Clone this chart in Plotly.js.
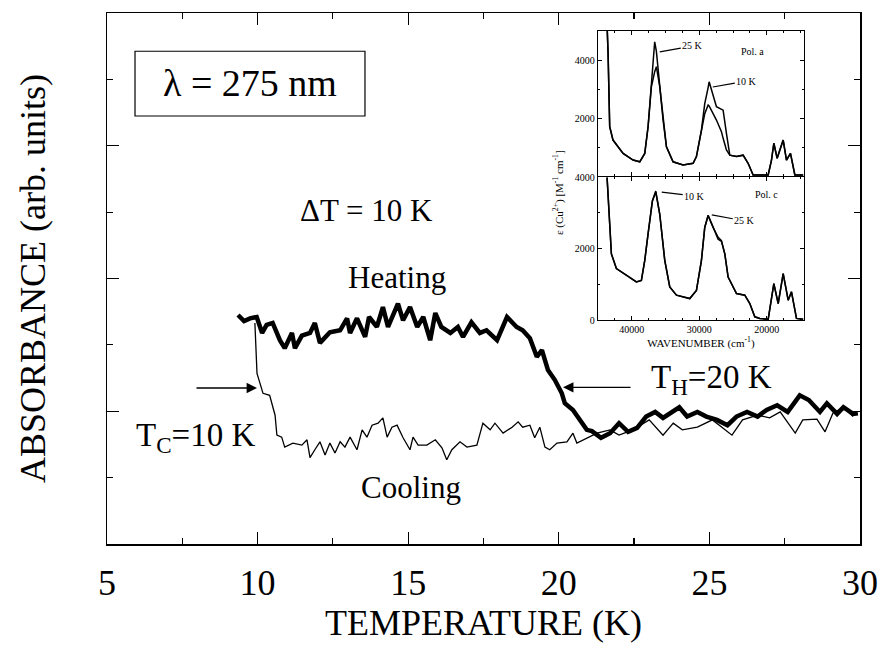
<!DOCTYPE html>
<html>
<head>
<meta charset="utf-8">
<script src="https://cdn.plot.ly/plotly-3.0.1.min.js"></script>
<style>html,body{margin:0;padding:0;background:#fff;} #chart{width:878px;height:647px;}</style>
</head>
<body>
<div id="chart"></div>
<script>
// ---- Main chart data (temperature in K, absorbance arb. units) ----
const heatT = [9.35,9.55,9.75,9.97,10.15,10.3,10.5,10.74,10.9,11.14,11.24,11.47,11.74,11.9,12.07,12.4,12.74,12.97,13.07,13.3,13.57,13.7,13.96,14.16,14.33,14.5,14.66,14.83,15.06,15.3,15.5,15.73,15.9,16.1,16.4,16.65,16.82,17.1,17.38,17.6,17.95,18.28,18.6,18.8,19.04,19.27,19.44,19.64,19.87,20.1,20.2,20.47,20.7,20.93,21.1,21.4,21.7,22.0,22.3,22.6,22.9,23.2,23.46,23.8,24.0,24.26,24.6,24.9,25.25,25.6,25.9,26.25,26.6,26.9,27.25,27.6,28.0,28.3,28.67,28.9,29.24,29.45,29.77,29.93];
const heatA = [3.45,3.36,3.40,3.42,3.18,3.30,3.33,3.07,2.95,3.18,2.95,3.14,3.18,3.33,3.03,3.19,3.22,3.40,3.18,3.40,3.12,3.42,3.27,3.57,3.27,3.45,3.62,3.37,3.57,3.27,3.42,3.07,3.48,3.27,3.18,3.27,3.12,3.34,3.18,3.22,3.07,3.42,3.27,3.22,3.10,2.82,2.92,2.62,2.47,2.27,2.12,2.02,1.87,1.72,1.70,1.60,1.67,1.82,1.69,1.75,1.92,1.99,1.90,1.99,2.06,1.92,1.99,1.92,1.87,1.79,1.92,1.99,1.92,2.02,2.09,1.99,2.24,2.17,1.99,2.12,1.96,2.06,1.96,1.97];
const coolT = [9.91,9.98,10.18,10.4,10.58,10.64,10.8,10.9,11.17,11.47,11.64,11.74,11.9,12.07,12.24,12.4,12.57,12.74,12.9,13.07,13.3,13.47,13.63,13.8,14.0,14.16,14.3,14.46,14.63,14.83,15.06,15.16,15.33,15.62,15.9,16.12,16.28,16.45,16.72,16.95,17.28,17.48,17.72,17.88,18.15,18.45,18.65,18.8,19.04,19.2,19.37,19.54,19.7,19.94,20.27,20.47,20.6,20.93,21.27,21.7,22.0,22.46,23.0,23.46,23.8,24.1,24.6,25.1,25.45,25.75,26.1,26.6,27.0,27.35,27.85,28.1,28.57,28.84,29.1,29.45,29.77];
const coolA = [3.33,2.57,2.27,2.24,1.94,1.64,1.61,1.46,1.52,1.49,1.57,1.30,1.42,1.54,1.34,1.52,1.37,1.54,1.46,1.61,1.42,1.72,1.61,1.79,1.82,1.90,1.61,1.76,1.79,1.60,1.42,1.61,1.49,1.49,1.57,1.45,1.27,1.42,1.54,1.46,1.49,1.82,1.72,1.82,1.67,1.76,1.84,1.76,1.79,1.60,1.76,1.46,1.42,1.52,1.54,1.67,1.52,1.60,1.67,1.72,1.64,1.72,1.87,1.64,1.82,1.72,1.76,1.87,1.74,1.64,1.87,1.94,1.90,1.99,1.67,1.87,1.88,1.69,1.97,2.06,1.92];

// ---- Inset data (wavenumber cm^-1, epsilon M^-1 cm^-1) ----
const insetWa = [43650,43500,43260,42770,41280,39800,38810,38070,37580,37090,36600,36350,35850,35360,34860,33880,32400,30910,30420,29680,29190,28690,28540,27460,26720,26470,25980,25480,24490,23510,22770,22030,21040,19800,19310,18960,18470,17580,17090,16500,15850,14620];
const pola25 = [5200,4230,1700,1240,780,550,490,780,1700,3080,4630,4300,3080,1930,1010,490,380,440,670,1590,2150,2450,2420,1930,1530,1300,900,720,670,720,440,35,35,35,550,1130,610,1240,550,780,35,35];
const pola10 = [5200,4230,1700,1240,780,550,490,780,1700,3080,3600,3770,3080,1930,1010,490,380,440,670,1590,2500,3050,3250,2390,2300,2270,1470,720,670,720,440,35,35,35,550,1130,610,1240,550,780,35,35];
const insetWc = [43650,43360,43010,42270,40790,39310,38570,38070,37580,36940,36440,35850,35110,34370,33380,31410,30420,29680,29190,28690,27950,27210,26720,26220,25730,24490,23260,22520,21780,21040,19800,18960,18320,17580,16840,16350,15610,14620];
const polc10 = [3990,3150,1850,1440,1250,1065,1110,1670,2410,3330,3610,2960,1670,925,695,600,830,1670,2590,2920,2590,2315,2220,1850,1200,740,695,460,90,45,20,1020,460,1300,555,790,45,20];
const polc25 = [3990,3150,1850,1440,1250,1065,1110,1670,2410,3330,3580,2960,1670,925,695,600,830,1670,2590,2930,2600,2260,2200,1850,1200,740,695,460,90,45,20,1020,460,1300,555,790,45,20];

const xTickVals = [5,10,15,20,25,30];
const insetXTicks = [40000,30000,20000];

const serif = 'Liberation Serif, Times New Roman, serif';
const black = '#000';

const traces = [
  {x: heatT, y: heatA, type:'scatter', mode:'lines', line:{color:black, width:4.5}, xaxis:'x', yaxis:'y', hoverinfo:'skip'},
  {x: coolT, y: coolA, type:'scatter', mode:'lines', line:{color:black, width:1.3}, xaxis:'x', yaxis:'y', hoverinfo:'skip'},
  {x: insetWa, y: pola25, type:'scatter', mode:'lines', line:{color:black, width:1.5}, xaxis:'x2', yaxis:'y2', hoverinfo:'skip'},
  {x: insetWa, y: pola10, type:'scatter', mode:'lines', line:{color:black, width:1.5}, xaxis:'x2', yaxis:'y2', hoverinfo:'skip'},
  {x: insetWc, y: polc10, type:'scatter', mode:'lines', line:{color:black, width:1.5}, xaxis:'x3', yaxis:'y3', hoverinfo:'skip'},
  {x: insetWc, y: polc25, type:'scatter', mode:'lines', line:{color:black, width:1.5}, xaxis:'x3', yaxis:'y3', hoverinfo:'skip'}
];

const insetX = [0.652, 0.9256];
const insetAxisCommon = {
  showline:true, linecolor:black, linewidth:1.2, mirror:'ticks', ticks:'inside', ticklen:4, tickcolor:black,
  showgrid:false, zeroline:false, tickfont:{family:serif, size:10, color:black}
};

const layout = {
  width:878, height:647,
  margin:{l:107, r:18, t:13, b:103},
  paper_bgcolor:'#fff', plot_bgcolor:'#fff',
  showlegend:false,
  font:{family:serif, color:black},
  xaxis:{
    domain:[0,1], range:[5,30], tickvals:xTickVals, ticktext:xTickVals.map(String),
    ticks:'inside', ticklen:12, tickwidth:1.2, tickcolor:black,
    minor:{dtick:2.5, tick0:0, ticks:'inside', ticklen:6, tickcolor:black, tickwidth:1.2, showgrid:false},
    showline:true, linecolor:black, linewidth:1.5, mirror:'ticks',
    showgrid:false, zeroline:false,
    tickfont:{family:serif, size:36, color:black}, ticklabelstandoff:6, ticklabeloverflow:'allow',
    title:{text:'TEMPERATURE (K)', font:{family:serif, size:36, color:black}, standoff:4},
    automargin:false
  },
  yaxis:{
    domain:[0,1], range:[0,8], tickmode:'linear', tick0:0, dtick:2,
    ticks:'inside', ticklen:12, tickwidth:1.2, tickcolor:black,
    minor:{dtick:1, tick0:0, ticks:'inside', ticklen:6, tickcolor:black, tickwidth:1.2, showgrid:false},
    showticklabels:false,
    showline:true, linecolor:black, linewidth:1.5, mirror:'ticks',
    showgrid:false, zeroline:false,
    title:{text:'ABSORBANCE (arb. units)', font:{family:serif, size:36, color:black}, standoff:49},
    automargin:false
  },
  xaxis2:Object.assign({}, insetAxisCommon, {
    domain:insetX, range:[45000,14500], anchor:'y2', tickvals:insetXTicks, showticklabels:false,
    minor:{dtick:2500, ticks:'inside', ticklen:2, tickcolor:black}
  }),
  yaxis2:Object.assign({}, insetAxisCommon, {
    domain:[0.693,0.966], range:[0,5000], anchor:'x2', tickvals:[2000,4000], ticktext:['2000','4000'],
    minor:{dtick:1000, ticks:'inside', ticklen:2, tickcolor:black}
  }),
  xaxis3:Object.assign({}, insetAxisCommon, {
    domain:insetX, range:[45000,14500], anchor:'y3', tickvals:insetXTicks, ticktext:insetXTicks.map(String),
    minor:{dtick:2500, ticks:'inside', ticklen:2, tickcolor:black},
    title:{text:'WAVENUMBER (cm<sup>-1</sup>)', font:{family:serif, size:11, color:black}, standoff:2}
  }),
  yaxis3:Object.assign({}, insetAxisCommon, {
    domain:[0.4218,0.691], range:[0,4000], anchor:'x3', tickvals:[0,2000,4000], ticktext:['0','2000','4000'],
    minor:{dtick:1000, ticks:'inside', ticklen:2, tickcolor:black}
  }),
  shapes:[
    {type:'rect', xref:'paper', yref:'paper', x0:0.0372, x1:0.3426, y0:0.806, y1:0.928, line:{color:black, width:1.2}, fillcolor:'rgba(0,0,0,0)'}
  ],
  annotations:[
    {xref:'paper', yref:'paper', x:0.190, y:0.868, text:'λ = 275 nm', showarrow:false, font:{family:serif, size:38, color:black}, xanchor:'center', yanchor:'middle'},
    {xref:'paper', yref:'paper', x:0.344, y:0.629, text:'ΔT = 10 K', showarrow:false, font:{family:serif, size:31, color:black}, xanchor:'center', yanchor:'middle'},
    {xref:'paper', yref:'paper', x:0.385, y:0.501, text:'Heating', showarrow:false, font:{family:serif, size:31, color:black}, xanchor:'center', yanchor:'middle'},
    {xref:'paper', yref:'paper', x:0.404, y:0.107, text:'Cooling', showarrow:false, font:{family:serif, size:31, color:black}, xanchor:'center', yanchor:'middle'},
    {xref:'paper', yref:'paper', x:0.118, y:0.2015, text:'T<sub>C</sub>=10 K', showarrow:false, font:{family:serif, size:33, color:black}, xanchor:'center', yanchor:'middle'},
    {xref:'paper', yref:'paper', x:0.803, y:0.309, text:'T<sub>H</sub>=20 K', showarrow:false, font:{family:serif, size:33, color:black}, xanchor:'center', yanchor:'middle'},
    {xref:'x', yref:'y', x:9.98, y:2.35, ax:-62, ay:0, text:'', showarrow:true, arrowhead:2, arrowsize:1.6, arrowwidth:1.3, arrowcolor:black},
    {xref:'x', yref:'y', x:20.14, y:2.36, ax:69, ay:0, text:'', showarrow:true, arrowhead:2, arrowsize:1.6, arrowwidth:1.3, arrowcolor:black},
    // inset labels
    {xref:'x2', yref:'y2', x:35850, y:4280, ax:33, ay:-6, text:'25 K', showarrow:true, arrowhead:0, arrowwidth:1.2, arrowcolor:black, font:{family:serif, size:10, color:black}},
    {xref:'x2', yref:'y2', x:28000, y:3070, ax:34, ay:-6, text:'10 K', showarrow:true, arrowhead:0, arrowwidth:1.2, arrowcolor:black, font:{family:serif, size:10, color:black}},
    {xref:'x2', yref:'y2', x:22080, y:4310, text:'Pol. a', showarrow:false, font:{family:serif, size:10, color:black}},
    {xref:'x3', yref:'y3', x:35560, y:3580, ax:33, ay:4, text:'10 K', showarrow:true, arrowhead:0, arrowwidth:1.2, arrowcolor:black, font:{family:serif, size:10, color:black}},
    {xref:'x3', yref:'y3', x:28150, y:2940, ax:33, ay:6, text:'25 K', showarrow:true, arrowhead:0, arrowwidth:1.2, arrowcolor:black, font:{family:serif, size:10, color:black}},
    {xref:'x3', yref:'y3', x:20000, y:3500, text:'Pol. c', showarrow:false, font:{family:serif, size:10, color:black}},
    {xref:'paper', yref:'paper', x:0.599, y:0.661, text:'ε (Cu<sup>2+</sup>) [M<sup>-1</sup> cm<sup>-1</sup>]', textangle:-90, showarrow:false, font:{family:serif, size:11, color:black}, xanchor:'center', yanchor:'middle'}
  ]
};

Plotly.newPlot('chart', traces, layout, {displayModeBar:false, staticPlot:true});
</script>
</body>
</html>
